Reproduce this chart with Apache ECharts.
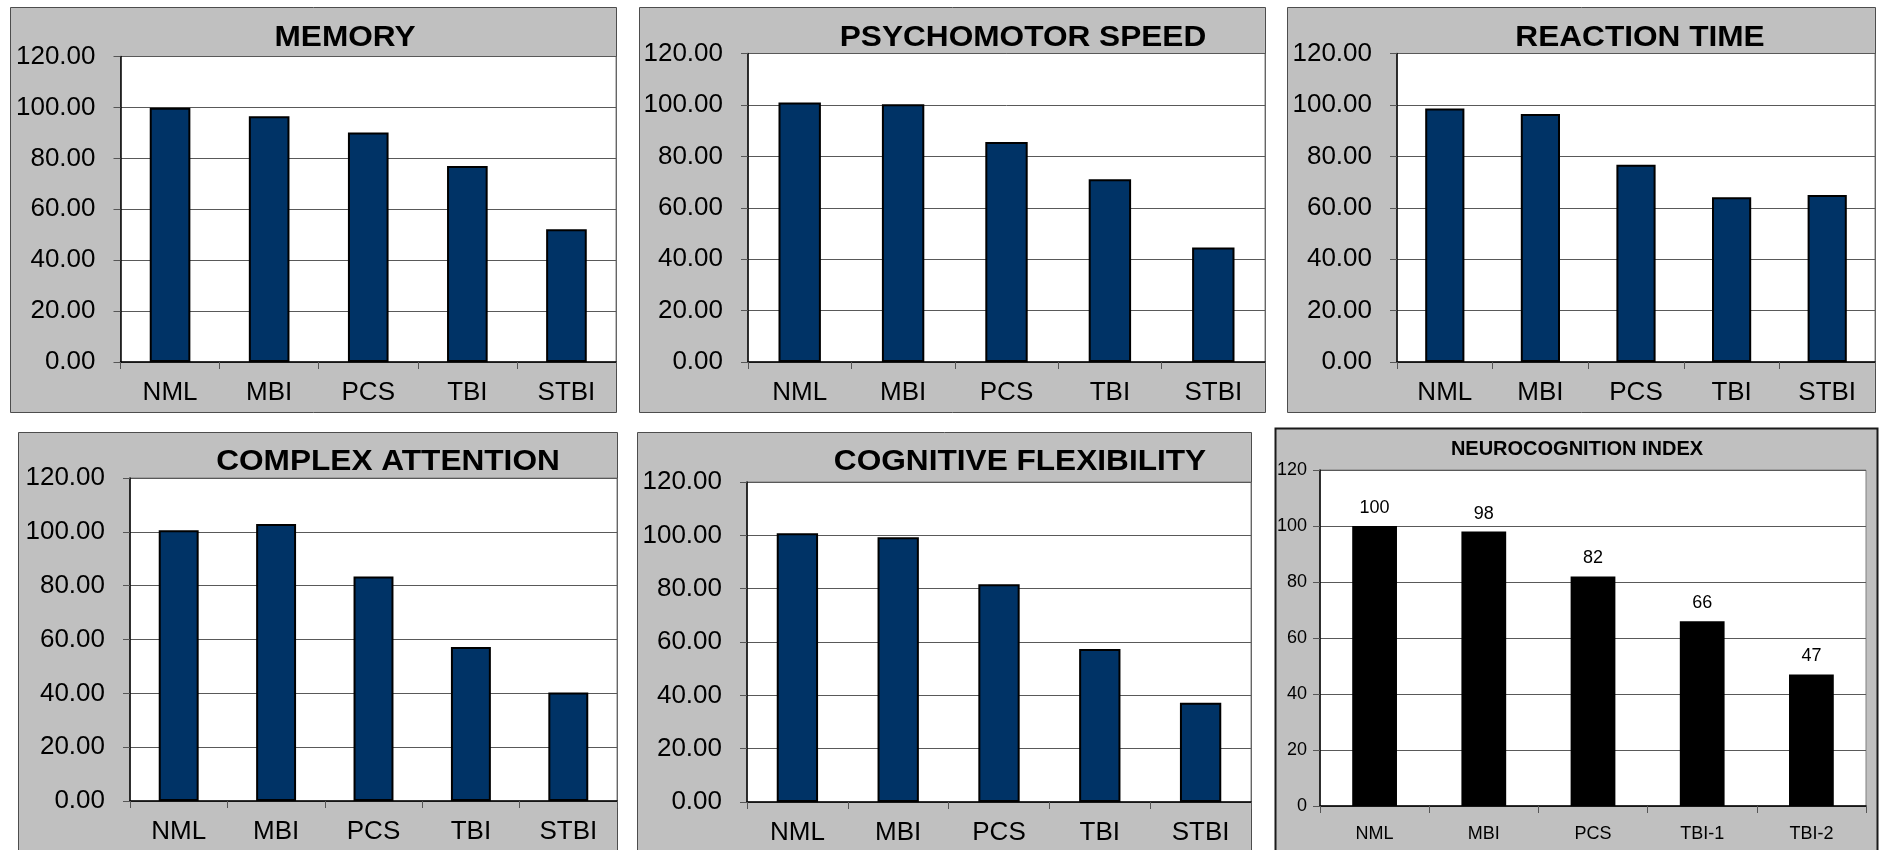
<!DOCTYPE html>
<html><head><meta charset="utf-8">
<script src="https://cdn.jsdelivr.net/npm/echarts@6/dist/echarts.min.js"></script>
<style>html,body{margin:0;padding:0;background:#fff}#c{width:1879px;height:850px}</style>
</head><body><div id="c"></div>
<script>
// ---- data ----
const categories = ['NML', 'MBI', 'PCS', 'TBI', 'STBI'];
const indexCategories = ['NML', 'MBI', 'PCS', 'TBI-1', 'TBI-2'];
const memory = [99.9, 96.5, 90.1, 77.0, 52.1];
const psychomotorSpeed = [100.9, 100.3, 85.6, 71.1, 44.5];
const reactionTime = [98.6, 96.5, 76.7, 64.1, 65.0];
const complexAttention = [100.6, 102.9, 83.4, 57.2, 40.3];
const cognitiveFlexibility = [100.8, 99.3, 81.7, 57.4, 37.2];
const neurocognitionIndex = [100, 98, 82, 66, 47];
const yMin = 0, yMax = 120, yStep = 20;
const titles = ['MEMORY', 'PSYCHOMOTOR SPEED', 'REACTION TIME', 'COMPLEX ATTENTION', 'COGNITIVE FLEXIBILITY', 'NEUROCOGNITION INDEX'];

// ---- layout (pixels) ----
const FONT = '"Liberation Sans", Arial, sans-serif';
const panels = [
  {x: 10,   y: 7,   w: 606, h: 405},
  {x: 639,  y: 7,   w: 626, h: 405},
  {x: 1287, y: 7,   w: 588, h: 405},
  {x: 18,   y: 432, w: 599, h: 440},
  {x: 637,  y: 432, w: 614, h: 440},
  {x: 1275, y: 428, w: 602, h: 440}
];
const grids = [
  {left: 120.5, top: 56.5, width: 495.5, height: 305.5},
  {left: 748,   top: 53.5, width: 517,   height: 308.5},
  {left: 1397,  top: 53.5, width: 478,   height: 308.5},
  {left: 130,   top: 478,  width: 487,   height: 323},
  {left: 747,   top: 482,  width: 504,   height: 320},
  {left: 1320,  top: 470,  width: 546,   height: 336}
];
const titlePos = [
  {x: 345, y: 38, size: 29, sx: 1.09},
  {x: 1023, y: 38, size: 29, sx: 1.09},
  {x: 1640, y: 38, size: 29, sx: 1.09},
  {x: 388, y: 462, size: 29, sx: 1.09},
  {x: 1020, y: 462, size: 29, sx: 1.09},
  {x: 1577, y: 449, size: 20, sx: 1.0}
];

const seriesData = [memory, psychomotorSpeed, reactionTime, complexAttention, cognitiveFlexibility, neurocognitionIndex];
const seriesCats = [categories, categories, categories, categories, categories, indexCategories];

const option = {
  animation: false,
  backgroundColor: '#ffffff',
  textStyle: {fontFamily: FONT},
  grid: [], xAxis: [], yAxis: [], series: [], graphic: []
};

panels.forEach((p, i) => {
  option.graphic.push({
    type: 'rect', z: -10, silent: true,
    shape: {x: p.x + 0.5, y: p.y + 0.5, width: p.w, height: p.h},
    style: {fill: '#c0c0c0', stroke: i === 5 ? '#1a1a1a' : '#4d4d4d', lineWidth: i === 5 ? 2 : 1}
  });
  option.graphic.push({
    type: 'text', z: 100, silent: true,
    x: titlePos[i].x, y: titlePos[i].y, scaleX: titlePos[i].sx,
    style: {text: titles[i], fill: '#000', font: 'bold ' + titlePos[i].size + 'px ' + FONT,
      textAlign: 'center', textVerticalAlign: 'middle'}
  });
});

grids.forEach((g, i) => {
  const small = i === 5;
  option.grid.push(Object.assign({show: true, backgroundColor: '#ffffff', borderColor: '#808080', borderWidth: 1, containLabel: false}, g));
  option.xAxis.push({
    type: 'category', gridIndex: i, data: seriesCats[i], boundaryGap: true,
    axisLine: {show: true, lineStyle: {color: '#000', width: 1.5}},
    axisTick: {show: true, inside: false, length: 7, alignWithLabel: false, lineStyle: {color: '#555'}},
    axisLabel: {fontSize: small ? 18 : 26, color: '#000', margin: small ? 19 : 18, fontFamily: FONT, interval: 0},
    splitLine: {show: false}
  });
  option.yAxis.push({
    type: 'value', gridIndex: i, min: yMin, max: yMax, interval: yStep,
    axisLine: {show: true, lineStyle: {color: '#000', width: 1.5}},
    axisTick: {show: true, inside: false, length: 7, lineStyle: {color: '#555'}},
    axisLabel: {fontSize: small ? 18 : 26, color: '#000', margin: small ? 13 : 25, fontFamily: FONT,
      formatter: small ? (v => String(v)) : (v => v.toFixed(2))},
    splitLine: {show: true, lineStyle: {color: '#595959', width: 1}}
  });
  option.series.push({
    type: 'bar', xAxisIndex: i, yAxisIndex: i, data: seriesData[i], barWidth: '41%',
    itemStyle: small ? {color: '#000'} : {color: '#003366', borderColor: '#000', borderWidth: 2},
    label: small ? {show: true, position: 'top', distance: 9, fontSize: 18, color: '#000', fontFamily: FONT} : {show: false}
  });
});

const chart = echarts.init(document.getElementById('c'), null, {renderer: 'canvas'});
chart.setOption(option);
</script>
</body></html>
